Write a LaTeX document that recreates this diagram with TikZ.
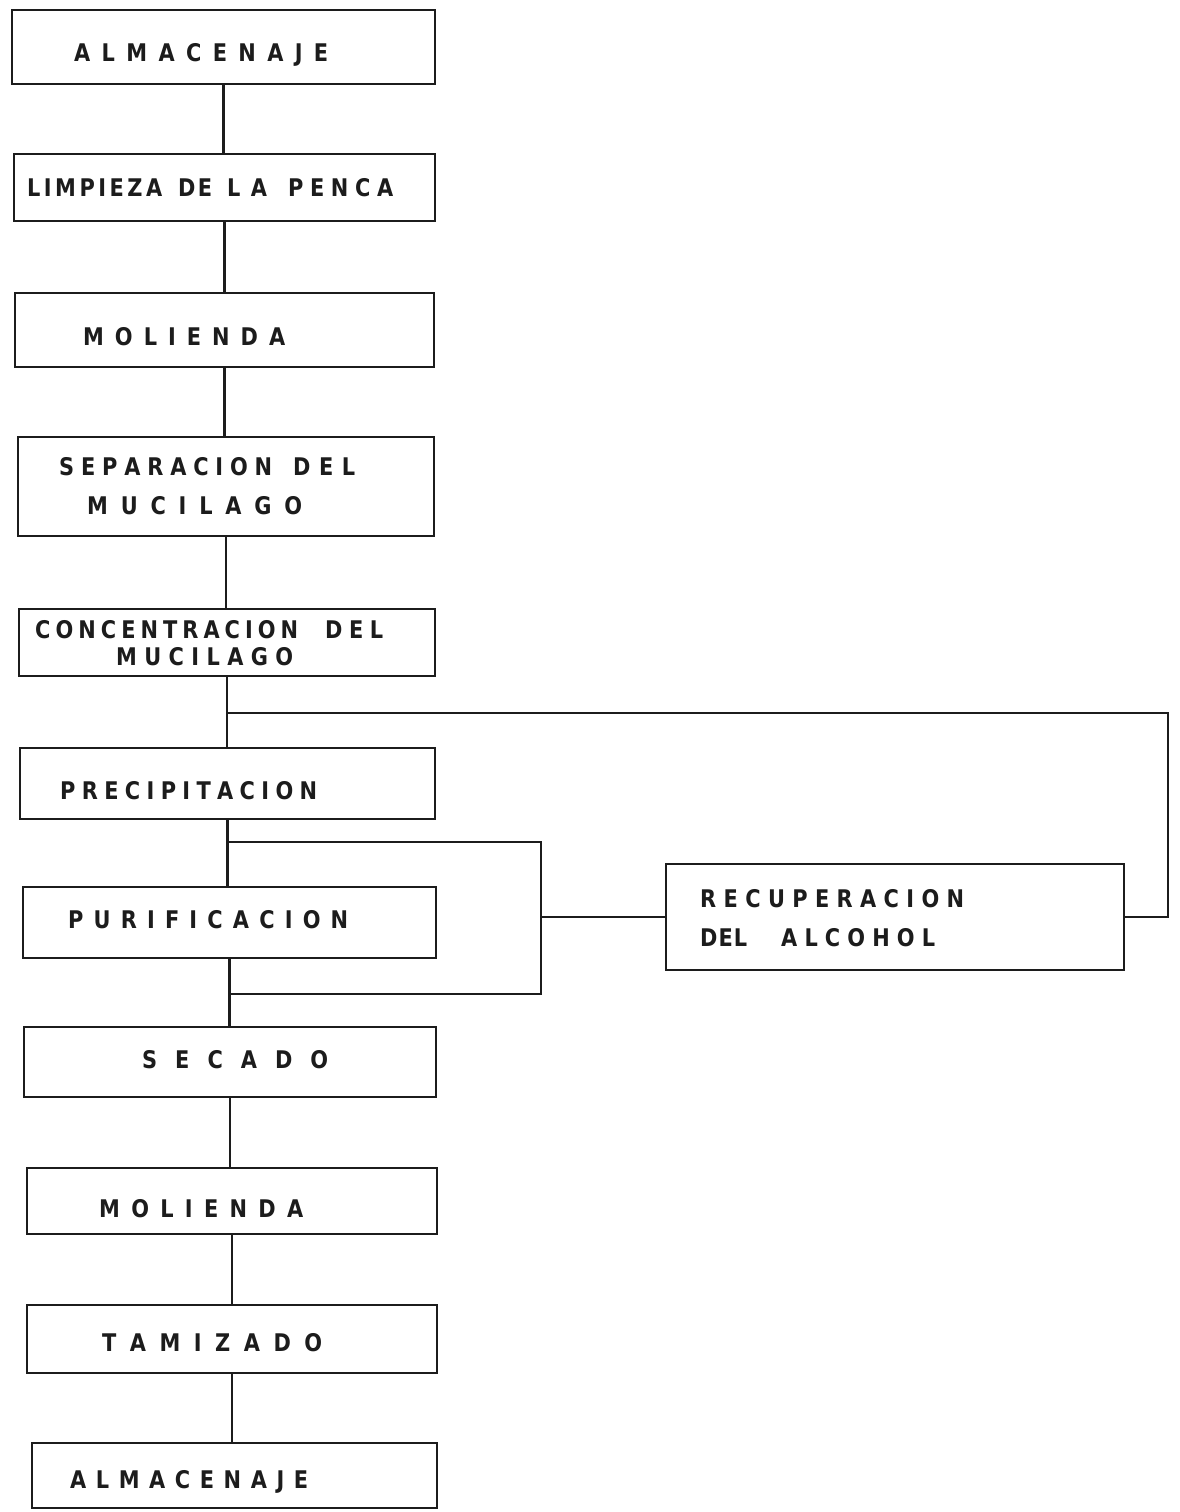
\documentclass[tikz,border=0pt]{standalone}
\usepackage{fontspec}
\setmainfont{DejaVu Sans}[FakeStretch=0.86]
\ExplSyntaxOn
\NewDocumentCommand \spr { m m } { \hbox_to_wd:nn {#1pt} { \tl_map_inline:nn {#2} { ##1 \hfil } \unskip } }
\ExplSyntaxOff
\definecolor{ink}{HTML}{1C1C1C}
\begin{document}
\begin{tikzpicture}[x=1pt,y=-1pt,
  box/.style={draw=ink, line width=2.8pt, rectangle, inner sep=0pt},
  lbl/.style={inner sep=0pt, anchor=base west, text=ink, font=\bfseries\fontsize{24.3}{28}\selectfont},
  conn/.style={draw=ink, line width=2.5pt}]
\useasboundingbox[fill=white] (0,0) rectangle (1180,1512);
\newcommand\mybox[5]{\node[box, minimum width={#4pt-#2pt}, minimum height={#5pt-#3pt}] (#1) at ({(#2+#4)/2},{(#3+#5)/2}) {};}
% boxes
\mybox{b1}{12}{10}{435}{84}
\mybox{b2}{14}{154}{435}{221}
\mybox{b3}{15}{293}{434}{367}
\mybox{b4}{18}{437}{434}{536}
\mybox{b5}{19}{609}{435}{676}
\mybox{b6}{20}{748}{435}{819}
\mybox{b7}{23}{887}{436}{958}
\mybox{b8}{24}{1027}{436}{1097}
\mybox{b9}{27}{1168}{437}{1234}
\mybox{b10}{27}{1305}{437}{1373}
\mybox{b11}{32}{1443}{437}{1508}
\mybox{r}{666}{864}{1124}{970}
% labels
\node[lbl] (t1) at (74,61.8) {\spr{254}{ALMACENAJE}};
\node[lbl] (t2) at (27,196.8) {\spr{135}{LIMPIEZA}\hskip16pt\spr{34}{DE}\hskip15pt\spr{40}{LA}\hskip21pt\spr{105}{PENCA}};
\node[lbl] (t3) at (83,345.8) {\spr{202}{MOLIENDA}};
\node[lbl] (t4a) at (59,475.8) {\spr{213}{SEPARACION}\hskip21pt\spr{62}{DEL}};
\node[lbl] (t4b) at (87,514.8) {\spr{215}{MUCILAGO}};
\node[lbl] (t5a) at (35,638.8) {\spr{263}{CONCENTRACION}\hskip27pt\spr{58}{DEL}};
\node[lbl] (t5b) at (116,665.8) {\spr{177}{MUCILAGO}};
\node[lbl] (t6) at (60,799.8) {\spr{257}{PRECIPITACION}};
\node[lbl] (t7) at (68,928.8) {\spr{280}{PURIFICACION}};
\node[lbl] (t8) at (142,1068.8) {\spr{186}{SECADO}};
\node[lbl] (t9) at (99,1217.8) {\spr{204}{MOLIENDA}};
\node[lbl] (t10) at (102,1351.8) {\spr{220}{TAMIZADO}};
\node[lbl] (t11) at (70,1488.8) {\spr{238}{ALMACENAJE}};
\node[lbl] (tr1) at (700,907.8) {\spr{264}{RECUPERACION}};
\node[lbl] (tr2) at (700,946.8) {\spr{47}{DEL}\hskip34pt\spr{154}{ALCOHOL}};
% junction coordinates
\coordinate (ta) at (1168,713);
\coordinate (pa) at (541,842);
\coordinate (pb) at (541,994);
% main line connectors
\draw[conn] (b1.south) -- (b1.south |- b2.north);
\draw[conn] (b2.south) -- (b2.south |- b3.north);
\draw[conn] (b3.south) -- (b3.south |- b4.north);
\draw[conn] (b4.south) -- (b4.south |- b5.north);
\draw[conn] (b5.south) -- (b5.south |- b6.north);
\draw[conn] (b6.south) -- (b6.south |- b7.north);
\draw[conn] (b7.south) -- (b7.south |- b8.north);
\draw[conn] (b8.south) -- (b8.south |- b9.north);
\draw[conn] (b9.south) -- (b9.south |- b10.north);
\draw[conn] (b10.south) -- (b10.south |- b11.north);
% alcohol recovery loop
\draw[conn] (b6.south |- pa) -- (pa) -- (pb) -- (b7.south |- pb);
\draw[conn] (pa |- r.west) -- (r.west);
\draw[conn] (r.east) -- (r.east -| ta) -- (ta) -- (b5.south |- ta);
\end{tikzpicture}
\end{document}
